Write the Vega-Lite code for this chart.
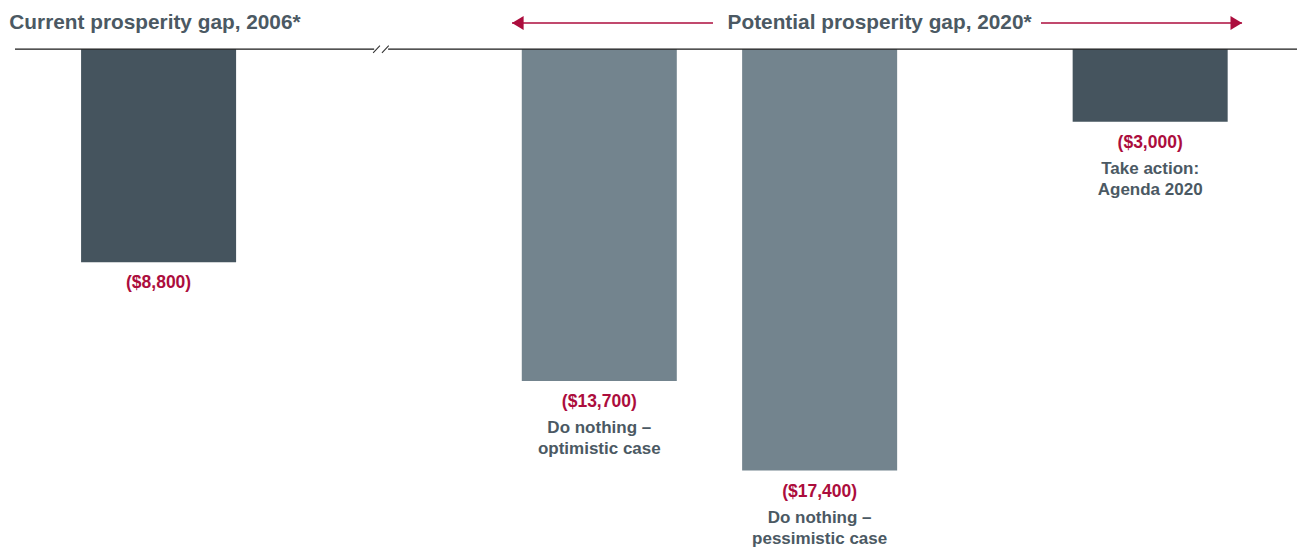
{
  "$schema": "https://vega.github.io/schema/vega-lite/v6.json",
  "width": 1282,
  "height": 548,
  "autosize": "none",
  "padding": {"left": 15, "right": 6, "top": 0, "bottom": 0},
  "background": "white",
  "config": {
    "view": {"stroke": null},
    "text": {"font": "Liberation Sans", "fontWeight": "bold"}
  },
  "datasets": {
    "gaps": [
      {"scenario": "current", "group": "Current", "gap": -8800, "label": ""},
      {"scenario": "optimistic", "group": "Do nothing", "gap": -13700, "label": "Do nothing –\noptimistic case"},
      {"scenario": "pessimistic", "group": "Do nothing", "gap": -17400, "label": "Do nothing –\npessimistic case"},
      {"scenario": "action", "group": "Take action", "gap": -3000, "label": "Take action:\nAgenda 2020"}
    ],
    "one": [{}]
  },
  "data": {"name": "gaps"},
  "layer": [
    {
      "mark": {"type": "bar", "width": {"band": 1.407}},
      "encoding": {
        "x": {
          "field": "scenario", "type": "nominal", "axis": null,
          "scale": {
            "type": "band",
            "domain": ["current", "g1", "g2", "g3", "optimistic", "g5", "pessimistic", "g7", "g8", "action"],
            "paddingInner": 0, "paddingOuter": 0.818, "align": 0.491
          }
        },
        "y": {
          "field": "gap", "type": "quantitative", "axis": null,
          "scale": {"domain": [-20600, 2030], "nice": false, "zero": false}
        },
        "color": {
          "field": "group", "type": "nominal", "legend": null,
          "scale": {"domain": ["Current", "Do nothing", "Take action"], "range": ["#45545e", "#73848e", "#45545e"]}
        }
      }
    },
    {
      "mark": {"type": "text", "baseline": "middle", "dy": 21, "fontSize": 17.5, "color": "#ac0d3d"},
      "encoding": {
        "x": {"field": "scenario", "type": "nominal"},
        "y": {"field": "gap", "type": "quantitative"},
        "text": {"field": "gap", "type": "quantitative", "format": "($,.0f"}
      }
    },
    {
      "mark": {"type": "text", "baseline": "top", "dy": 39, "fontSize": 17, "lineHeight": 21, "lineBreak": "\n", "color": "#4b5963"},
      "encoding": {
        "x": {"field": "scenario", "type": "nominal"},
        "y": {"field": "gap", "type": "quantitative"},
        "text": {"field": "label", "type": "nominal"}
      }
    },
    {
      "data": {"name": "one"},
      "mark": {"type": "rule", "color": "#1a1a1a", "strokeWidth": 1.3},
      "encoding": {"y": {"datum": 0, "type": "quantitative"}}
    },
    {
      "data": {"name": "one"},
      "mark": {"type": "point", "shape": "M-1,0L1,0", "size": 196, "stroke": "white", "strokeWidth": 5, "filled": false, "opacity": 1},
      "encoding": {
        "x": {"datum": "g2", "type": "nominal", "bandPosition": 0.52},
        "y": {"datum": 0, "type": "quantitative"}
      }
    },
    {
      "data": {"name": "one"},
      "mark": {"type": "point", "shape": "M-1,0.45L-0.15,-0.45M0.1,0.45L0.95,-0.45", "size": 256, "stroke": "#333333", "strokeWidth": 1.1, "filled": false, "opacity": 1},
      "encoding": {
        "x": {"datum": "g2", "type": "nominal", "bandPosition": 0.52},
        "y": {"datum": 0, "type": "quantitative"}
      }
    },
    {
      "data": {"name": "one"},
      "mark": {"type": "text", "align": "center", "baseline": "middle", "fontSize": 20.8, "color": "#4b5963"},
      "encoding": {
        "x": {"datum": "current", "type": "nominal", "bandPosition": 0.467},
        "y": {"datum": 1100, "type": "quantitative"},
        "text": {"value": "Current prosperity gap, 2006*"}
      }
    },
    {
      "data": {"name": "one"},
      "mark": {"type": "text", "align": "center", "baseline": "middle", "fontSize": 20.8, "color": "#4b5963"},
      "encoding": {
        "x": {"datum": "g7", "type": "nominal", "bandPosition": 0.044},
        "y": {"datum": 1100, "type": "quantitative"},
        "text": {"value": "Potential prosperity gap, 2020*"}
      }
    },
    {
      "data": {"name": "one"},
      "mark": {"type": "rule", "color": "#ac0d3d", "strokeWidth": 1.5},
      "encoding": {
        "x": {"datum": "g3", "type": "nominal", "bandPosition": 0.708},
        "x2": {"datum": "g5", "bandPosition": 0.532},
        "y": {"datum": 1080, "type": "quantitative"}
      }
    },
    {
      "data": {"name": "one"},
      "mark": {"type": "rule", "color": "#ac0d3d", "strokeWidth": 1.5},
      "encoding": {
        "x": {"datum": "g8", "type": "nominal", "bandPosition": 0.509},
        "x2": {"datum": "action", "bandPosition": 1.334},
        "y": {"datum": 1080, "type": "quantitative"}
      }
    },
    {
      "data": {"name": "one"},
      "mark": {"type": "point", "shape": "M0,0L2,-1.2L2,1.2Z", "size": 134, "color": "#ac0d3d", "filled": true, "opacity": 1},
      "encoding": {
        "x": {"datum": "g3", "type": "nominal", "bandPosition": 0.708},
        "y": {"datum": 1080, "type": "quantitative"}
      }
    },
    {
      "data": {"name": "one"},
      "mark": {"type": "point", "shape": "M0,0L-2,-1.2L-2,1.2Z", "size": 134, "color": "#ac0d3d", "filled": true, "opacity": 1},
      "encoding": {
        "x": {"datum": "action", "type": "nominal", "bandPosition": 1.334},
        "y": {"datum": 1080, "type": "quantitative"}
      }
    }
  ]
}
